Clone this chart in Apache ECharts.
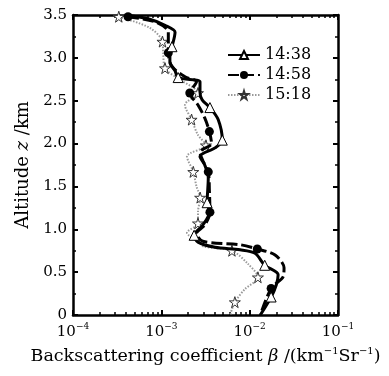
<!DOCTYPE html>
<html lang="en">
  <head>
    <meta charset="UTF-8" />
    <title>Backscattering profile</title>
    <script src="https://cdn.jsdelivr.net/npm/echarts@6/dist/echarts.min.js"></script>
    <style>
      * { margin: 0; padding: 0; box-sizing: border-box; }
      body { background: #fff; overflow: hidden; }
      #chart { width: 389px; height: 376px; }
    </style>
  </head>
  <body>
    <div id="chart"></div>
    <script>
      // profiles, top to bottom
      const alt1438 = [3.50, 3.45, 3.38, 3.30, 3.13, 3.05, 2.95, 2.85, 2.77, 2.72, 2.60, 2.51, 2.42, 2.28, 2.04, 1.95,
        1.85, 1.75, 1.60, 1.31, 1.20, 1.05, 0.93, 0.85, 0.79, 0.76, 0.72, 0.58, 0.47, 0.35, 0.21, 0.00];
      const beta1438 = [4.0e-4, 7.4e-4, 1.1e-3, 1.43e-3, 1.32e-3, 1.25e-3, 1.25e-3, 1.43e-3, 1.55e-3, 2.74e-3, 2.74e-3,
        2.9e-3, 3.55e-3, 4.4e-3, 4.9e-3, 4.05e-3, 2.74e-3, 3.1e-3, 3.4e-3, 3.3e-3, 3.5e-3, 2.95e-3, 2.35e-3, 2.6e-3,
        4.05e-3, 7.8e-3, 1.15e-2, 1.48e-2, 2.1e-2, 2.0e-2, 1.75e-2, 1.32e-2];
      const marks1438 = [4, 8, 12, 14, 19, 22, 27, 30];

      const alt1458 = [3.48, 3.42, 3.30, 3.15, 3.06, 2.90, 2.78, 2.72, 2.59, 2.45, 2.30, 2.14, 2.00, 1.90, 1.80, 1.67,
        1.45, 1.20, 1.05, 0.95, 0.86, 0.82, 0.77, 0.70, 0.55, 0.45, 0.31, 0.00];
      const beta1458 = [4.2e-4, 8.5e-4, 1.2e-3, 1.2e-3, 1.2e-3, 1.32e-3, 1.85e-3, 2.5e-3, 2.1e-3, 2.6e-3, 3.1e-3,
        3.5e-3, 3.7e-3, 2.74e-3, 2.95e-3, 3.4e-3, 3.5e-3, 3.55e-3, 3.1e-3, 2.5e-3, 2.95e-3, 7.8e-3, 1.22e-2, 1.94e-2,
        2.45e-2, 2.4e-2, 1.75e-2, 1.32e-2];
      const marks1458 = [0, 4, 8, 11, 15, 17, 22, 26];

      const alt1518 = [3.48, 3.35, 3.19, 3.05, 2.88, 2.75, 2.59, 2.45, 2.28, 2.10, 1.98, 1.85, 1.67, 1.50, 1.37, 1.20,
        1.07, 0.96, 0.85, 0.80, 0.75, 0.60, 0.44, 0.30, 0.15, 0.00];
      const beta1518 = [3.3e-4, 7.4e-4, 1.03e-3, 1.05e-3, 1.1e-3, 1.6e-3, 2.6e-3, 1.85e-3, 2.2e-3, 2.6e-3, 3.2e-3,
        1.95e-3, 2.3e-3, 2.5e-3, 2.75e-3, 2.6e-3, 2.6e-3, 1.95e-3, 2.74e-3, 3.0e-3, 6.3e-3, 9.5e-3, 1.24e-2, 8.8e-3,
        6.8e-3, 6.0e-3];
      const marks1518 = [0, 2, 4, 6, 8, 10, 12, 14, 16, 20, 22, 24];

      const seriesNames = ["14:38", "14:58", "15:18"];
      const xMin = 1e-4, xMax = 1e-1;
      const yTicks = [0, 0.5, 1.0, 1.5, 2.0, 2.5, 3.0, 3.5];

      const serif = "DejaVu Serif";
      const starPath = "path://M50,0 L61,35 L98,35 L68,57 L79,91 L50,70 L21,91 L32,57 L2,35 L39,35 Z";

      // minor log ticks 2..9 in each decade
      const minorTicks = [];
      for (let d = -4; d < -1; d++) {
        for (let k = 2; k <= 9; k++) minorTicks.push(k * Math.pow(10, d));
      }

      function build(alts, betas, marks) {
        return alts.map((a, i) => {
          const item = { value: [betas[i], a] };
          if (marks.indexOf(i) < 0) item.symbol = "none";
          return item;
        });
      }

      const chart = echarts.init(document.getElementById("chart"));

      const frame = () => ({ show: true, onZero: false, lineStyle: { color: "#000", width: 2.5 } });
      const noLine = () => ({ show: false, onZero: false });
      const majorTick = () => ({ show: true, inside: true, length: 5, lineStyle: { color: "#000", width: 2 } });
      const minorTick = () => ({ show: true, inside: true, length: 3, lineStyle: { color: "#000", width: 1.5 } });

      const logAxis = (extra) => Object.assign({
        type: "log",
        logBase: 10,
        min: xMin,
        max: xMax,
        gridIndex: 0,
        splitLine: { show: false },
        minorSplitLine: { show: false }
      }, extra);

      const yAxisBase = (extra) => Object.assign({
        type: "value",
        min: yTicks[0],
        max: yTicks[yTicks.length - 1],
        interval: 0.5,
        gridIndex: 0,
        axisLine: frame(),
        axisTick: majorTick(),
        minorTick: Object.assign({ splitNumber: 2 }, minorTick()),
        splitLine: { show: false },
        minorSplitLine: { show: false }
      }, extra);

      const option = {
        animation: false,
        backgroundColor: "#fff",
        grid: { left: 73, right: 51, top: 15, bottom: 61 },
        legend: {
          data: seriesNames,
          orient: "vertical",
          left: 222,
          top: 42,
          itemWidth: 32,
          itemHeight: 10,
          itemGap: 4,
          textStyle: { fontFamily: serif, fontSize: 16, color: "#000" }
        },
        xAxis: [
          logAxis({
            position: "bottom",
            axisLine: frame(),
            axisTick: majorTick(),
            axisLabel: {
              margin: 7,
              formatter: (v) => "{b|10}{s|−" + Math.round(-Math.log10(v)) + "}",
              rich: {
                b: { fontFamily: serif, fontSize: 15, color: "#000", verticalAlign: "bottom", lineHeight: 18 },
                s: { fontFamily: serif, fontSize: 9, color: "#000", verticalAlign: "top", lineHeight: 18 }
              }
            },
            name: "Backscattering coefficient {i|β} /(km{s|−1}Sr{s|−1})",
            nameLocation: "middle",
            nameGap: 31,
            nameTextStyle: {
              fontFamily: serif, fontSize: 17.5, color: "#000",
              rich: {
                i: { fontFamily: serif, fontSize: 17.5, fontStyle: "italic", color: "#000" },
                s: { fontFamily: serif, fontSize: 10, color: "#000", verticalAlign: "top", lineHeight: 20 }
              }
            }
          }),
          logAxis({ position: "top", axisLine: frame(), axisTick: majorTick(), axisLabel: { show: false } }),
          logAxis({
            position: "bottom", axisLine: noLine(), axisLabel: { show: false },
            axisTick: Object.assign({ customValues: minorTicks }, minorTick())
          }),
          logAxis({
            position: "top", axisLine: noLine(), axisLabel: { show: false },
            axisTick: Object.assign({ customValues: minorTicks }, minorTick())
          })
        ],
        yAxis: [
          yAxisBase({
            position: "left",
            axisLabel: {
              margin: 6,
              fontFamily: serif,
              fontSize: 15,
              color: "#000",
              formatter: (v) => (v === 0 ? "0" : v.toFixed(1))
            },
            name: "Altitude {i|z} /km",
            nameLocation: "middle",
            nameRotate: 90,
            nameGap: 36,
            nameTextStyle: {
              fontFamily: serif, fontSize: 18, color: "#000",
              rich: { i: { fontFamily: serif, fontSize: 18, fontStyle: "italic", color: "#000" } }
            }
          }),
          yAxisBase({ position: "right", axisLabel: { show: false } })
        ],
        series: [
          {
            name: seriesNames[0],
            type: "line",
            xAxisIndex: 0,
            yAxisIndex: 0,
            z: 4,
            smooth: 0.3,
            symbol: "triangle",
            symbolSize: 10,
            itemStyle: { color: "#fff", borderColor: "#000", borderWidth: 1 },
            lineStyle: { color: "#000", width: 3 },
            data: build(alt1438, beta1438, marks1438)
          },
          {
            name: seriesNames[1],
            type: "line",
            xAxisIndex: 0,
            yAxisIndex: 0,
            z: 3,
            smooth: 0.3,
            symbol: "circle",
            symbolSize: 9,
            itemStyle: { color: "#000", borderColor: "#000", borderWidth: 0 },
            lineStyle: { color: "#000", width: 3, type: [11, 4] },
            data: build(alt1458, beta1458, marks1458)
          },
          {
            name: seriesNames[2],
            type: "line",
            xAxisIndex: 0,
            yAxisIndex: 0,
            z: 2,
            smooth: 0.3,
            symbol: starPath,
            symbolSize: 11,
            itemStyle: { color: "#fff", borderColor: "#333", borderWidth: 1 },
            lineStyle: { color: "#9a9a9a", width: 2, type: [1.5, 1.5] },
            data: build(alt1518, beta1518, marks1518)
          }
        ]
      };

      chart.setOption(option);
    </script>
  </body>
</html>
